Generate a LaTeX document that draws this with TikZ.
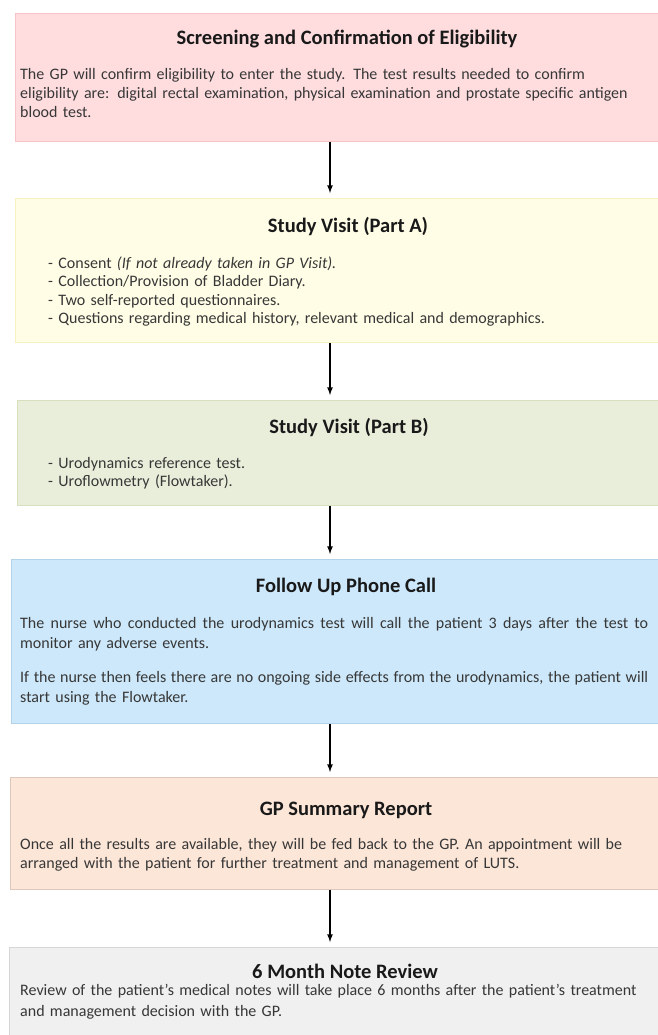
\documentclass[tikz,border=0pt]{standalone}
\usepackage{fontspec}
\setmainfont{Carlito}
\usetikzlibrary{arrows}

\definecolor{screenfill}{RGB}{255,221,223}
\definecolor{screenline}{RGB}{246,196,200}
\definecolor{partafill}{RGB}{255,253,230}
\definecolor{partaline}{RGB}{248,242,190}
\definecolor{partbfill}{RGB}{233,238,218}
\definecolor{partbline}{RGB}{214,224,190}
\definecolor{callfill}{RGB}{204,232,250}
\definecolor{callline}{RGB}{180,210,232}
\definecolor{reportfill}{RGB}{252,230,216}
\definecolor{reportline}{RGB}{222,200,188}
\definecolor{reviewfill}{RGB}{240,240,240}
\definecolor{reviewline}{RGB}{214,214,214}
\definecolor{bodygrey}{RGB}{55,55,55}

\tikzset{
    stage/.style={rectangle, anchor=north west, inner sep=0pt, line width=0.8pt},
    stagetitle/.style={font=\fontsize{20.5}{24}\selectfont\bfseries, text=black!90, inner sep=0pt},
    stagetext/.style={anchor=base west, inner sep=0pt, text width=640pt, align=left,
        font=\fontsize{16}{19}\selectfont, text=bodygrey},
    flow/.style={draw=black, line width=1.6pt, -latex}
}

\newcommand{\fullline}[1]{\leavevmode\hbox to 628pt{\spaceskip=0.24em plus 1em minus 0.12em #1}}

\begin{document}
\begin{tikzpicture}[x=1pt,y=-1pt]
            \useasboundingbox (0,0) rectangle (657,1035);
            \node[stage, fill=screenfill, draw=screenline, minimum width=650pt, minimum height=128pt] (screen) at (15,13) {};
            \node[stage, fill=partafill, draw=partaline, minimum width=650pt, minimum height=144pt] (parta) at (15,198) {};
            \node[stage, fill=partbfill, draw=partbline, minimum width=650pt, minimum height=105pt] (partb) at (17,400) {};
            \node[stage, fill=callfill, draw=callline, minimum width=650pt, minimum height=164pt] (call) at (11,559) {};
            \node[stage, fill=reportfill, draw=reportline, minimum width=650pt, minimum height=112pt] (report) at (10,777) {};
            \node[stage, fill=reviewfill, draw=reviewline, minimum width=650pt, minimum height=100pt] (review) at (9,947) {};
            \node[stagetitle] (screentitle) at (347,39) {Screening and Confirmation of Eligibility};
            \node[stagetext] (screentext) at (20,80) {The GP will confirm eligibility to enter the study. The test results needed to confirm\\
                eligibility are: digital rectal examination, physical examination and prostate specific antigen\\
                blood test.};
            \node[stagetitle] (partatitle) at (348,227) {Study Visit (Part A)};
            \node[stagetext, font=\fontsize{16}{18.5}\selectfont] (partatext) at (48,268) {- Consent \textit{(If not already taken in GP Visit).}\\
                - Collection/Provision of Bladder Diary.\\
                - Two self-reported questionnaires.\\
                - Questions regarding medical history, relevant medical and demographics.};
            \node[stagetitle] (partbtitle) at (349,427) {Study Visit (Part B)};
            \node[stagetext, font=\fontsize{16}{18.5}\selectfont] (partbtext) at (48,468) {- Urodynamics reference test.\\
                - Uroflowmetry (Flowtaker).};
            \node[stagetitle] (calltitle) at (346,587) {Follow Up Phone Call};
            \node[stagetext, font=\fontsize{16}{20.5}\selectfont] (calltext) at (20,628) {\fullline{The nurse who conducted the urodynamics test will call the patient 3 days after the test to}\\
                monitor any adverse events.\\[13pt]
                \fullline{If the nurse then feels there are no ongoing side effects from the urodynamics, the patient will}\\
                start using the Flowtaker.};
            \node[stagetitle] (reporttitle) at (346,810) {GP Summary Report};
            \node[stagetext] (reporttext) at (20,849) {Once all the results are available, they will be fed back to the GP. An appointment will be\\
                arranged with the patient for further treatment and management of LUTS.};
            \node[stagetitle] (reviewtitle) at (345,971) {6 Month Note Review};
            \node[stagetext, font=\fontsize{16}{21}\selectfont] (reviewtext) at (20,995) {Review of the patient’s medical notes will take place 6 months after the patient’s treatment\\
                and management decision with the GP.};
            \coordinate (column) at (330,0);
            \draw[flow] (screen.south -| column) -- ([yshift=5pt]parta.north -| column);
            \draw[flow] (parta.south -| column) -- ([yshift=5pt]partb.north -| column);
            \draw[flow] (partb.south -| column) -- ([yshift=5pt]call.north -| column);
            \draw[flow] (call.south -| column) -- ([yshift=5pt]report.north -| column);
            \draw[flow] (report.south -| column) -- ([yshift=5pt]review.north -| column);
        \end{tikzpicture}
\end{document}
